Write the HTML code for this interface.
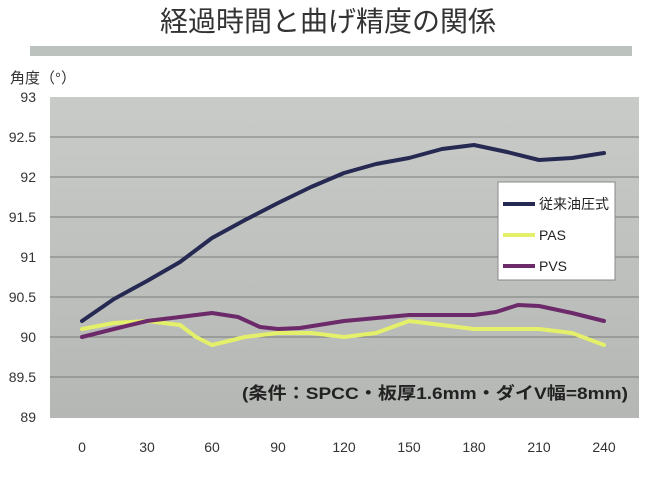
<!DOCTYPE html>
<html><head><meta charset="utf-8"><style>
body{margin:0;background:#fff;}
svg{display:block;font-family:"Liberation Sans","Noto Sans CJK JP",sans-serif;}
</style></head><body>
<svg width="657" height="479" viewBox="0 0 657 479" xmlns="http://www.w3.org/2000/svg">
<defs><linearGradient id="g" x1="0" y1="0" x2="0" y2="1">
<stop offset="0" stop-color="#c9cbc8"/><stop offset="1" stop-color="#b4b7b4"/></linearGradient></defs>
<text x="328" y="31" font-size="28" text-anchor="middle" fill="#333">経過時間と曲げ精度の関係</text>
<rect x="30" y="46" width="602" height="10" fill="#bcc3bf"/>
<text x="10" y="83" font-size="15" fill="#333">角度（°）</text>
<rect x="50" y="97" width="589" height="321" fill="url(#g)"/>
<g stroke="#7a7d7a" stroke-width="1">
<line x1="50" y1="137" x2="639" y2="137"/><line x1="50" y1="177" x2="639" y2="177"/>
<line x1="50" y1="217" x2="639" y2="217"/><line x1="50" y1="257" x2="639" y2="257"/>
<line x1="50" y1="297" x2="639" y2="297"/><line x1="50" y1="337" x2="639" y2="337"/>
<line x1="50" y1="377" x2="639" y2="377"/>
</g>
<g font-size="14" fill="#333" text-anchor="end">
<text x="36" y="102">93</text><text x="36" y="142">92.5</text><text x="36" y="182">92</text>
<text x="36" y="222">91.5</text><text x="36" y="262">91</text><text x="36" y="302">90.5</text>
<text x="36" y="342">90</text><text x="36" y="382">89.5</text><text x="36" y="422">89</text>
</g>
<g font-size="14" fill="#333" text-anchor="middle">
<text x="82" y="452">0</text><text x="147" y="452">30</text><text x="212" y="452">60</text>
<text x="278" y="452">90</text><text x="344" y="452">120</text><text x="409" y="452">150</text>
<text x="474" y="452">180</text><text x="539" y="452">210</text><text x="604" y="452">240</text>
</g>
<g fill="none" stroke-width="4" stroke-linejoin="round" stroke-linecap="round">
<polyline stroke="#e5f06a" points="82,329 114,323 147,321 180,325 196,337 212,345 245,337 278,333 311,333 344,337 376,333 409,321 442,325 474,329 507,329 539,329 572,333 604,345"/>
<polyline stroke="#6d2a6a" points="82,337 114,329 147,321 180,317 212,313 238,317 260,327 278,329 300,328 344,321 409,315 474,315 496,312 518,305 539,306 572,313 604,321"/>
<polyline stroke="#262a52" points="82,321 114,299 147,281 180,262 212,238 245,220 278,203 311,187 344,173 376,164 409,158 442,149 474,145 507,152 539,160 572,158 604,153"/>
</g>
<rect x="498" y="182" width="117" height="98" fill="#fff" stroke="#888"/>
<g stroke-width="4">
<line x1="503" y1="204" x2="535" y2="204" stroke="#262a52"/>
<line x1="503" y1="235" x2="535" y2="235" stroke="#e5f06a"/>
<line x1="503" y1="266" x2="535" y2="266" stroke="#6d2a6a"/>
</g>
<g font-size="14" fill="#222">
<text x="539" y="209">従来油圧式</text><text x="539" y="240">PAS</text><text x="539" y="271">PVS</text>
</g>
<text x="242" y="399" font-size="17" font-weight="bold" fill="#222" textLength="386" lengthAdjust="spacingAndGlyphs">(条件：SPCC・板厚1.6mm・ダイV幅=8mm)</text>
</svg>
</body></html>
